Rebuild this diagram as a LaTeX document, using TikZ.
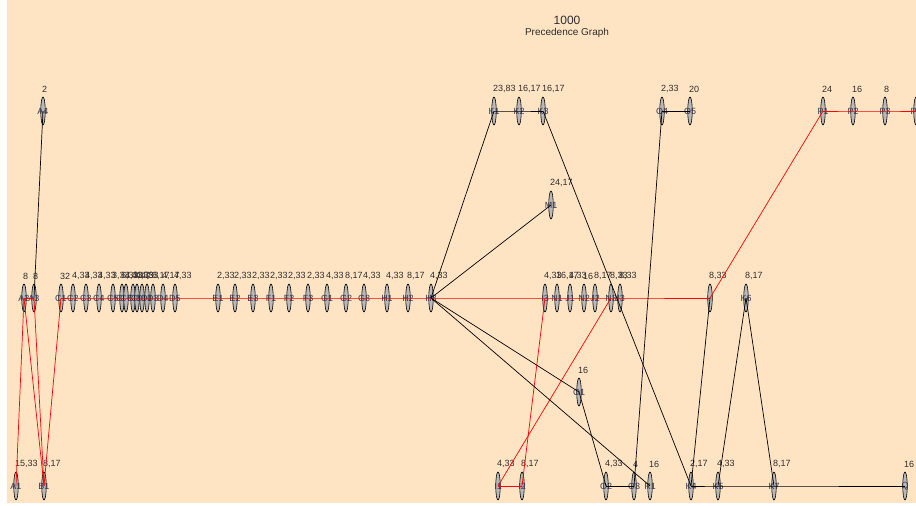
\documentclass[tikz,border=0pt]{standalone}
\usepackage{fontspec}
\setmainfont{Liberation Sans}
\usetikzlibrary{shapes.geometric}
\definecolor{bg}{RGB}{255,228,196}
\definecolor{lblc}{RGB}{55,60,90}
\definecolor{numc}{RGB}{45,45,45}
\tikzset{
 vtx/.style={ellipse,draw=black,fill=gray!55,minimum width=4.5pt,minimum height=28pt,inner sep=0pt,line width=0.6pt},
 vlbl/.style={font=\fontsize{9}{9}\selectfont,text=lblc,inner sep=0pt},
 vnum/.style={font=\fontsize{9}{9}\selectfont,text=numc,inner sep=0pt,anchor=west},
 redge/.style={draw=red,line width=0.7pt},
 bedge/.style={draw=black,line width=0.7pt},
}
\newcommand{\gnode}[5]{%
 \node[vtx] (#1) at (#2,#3) {};
 \node[vlbl] (#1-l) at (#2,#3) {#4};
 \node[vnum] (#1-n) at (#2-1,#3-22) {#5};
}
\begin{document}
\begin{tikzpicture}[x=1pt,y=-1pt]
\useasboundingbox (0,0) rectangle (916,506);
\fill[white] (0,0) rectangle (916,506);
\fill[bg] (7,0) rectangle (916,503);
\node[font=\fontsize{12}{12}\selectfont,text=numc] (title1) at (567,20) {1000};
\node[font=\fontsize{10}{10}\selectfont,text=numc] (title2) at (567,33) {Precedence Graph};
% bottom row
\gnode{A1}{16}{486}{A1}{15,33}
\gnode{B1}{44}{486}{B1}{8,17}
\gnode{I1}{498}{486}{I1}{4,33}
\gnode{I2}{522}{486}{I2}{8,17}
\gnode{O2}{606}{486}{O2}{4,33}
\gnode{O3}{634}{486}{O3}{4}
\gnode{R1}{650}{486}{R1}{16}
\gnode{K4}{691}{486}{K4}{2,17}
\gnode{K5}{718}{486}{K5}{4,33}
\gnode{K7}{774}{486}{K7}{8,17}
\gnode{Q}{905}{486}{Q}{16}
% main row
\gnode{A2}{24}{298}{A2}{8}
\gnode{A3}{34}{298}{A3}{8}
\gnode{C1}{61}{298}{C1}{32}
\gnode{C2}{73}{298}{C2}{4,33}
\gnode{C3}{86}{298}{C3}{4,33}
\gnode{C4}{99}{298}{C4}{4,33}
\gnode{C5}{113}{298}{C5}{3,33}
\gnode{C6}{122}{298}{C6}{6,33}
\gnode{C7}{126}{298}{C7}{4,33}
\gnode{C8}{133}{298}{C8}{4,17}
\gnode{C9}{137}{298}{C9}{4,33}
\gnode{D1}{142}{298}{D1}{4,33}
\gnode{D2}{147}{298}{D2}{7}
\gnode{D3}{153}{298}{D3}{8,17}
\gnode{D4}{163}{298}{D4}{4,17}
\gnode{D5}{175}{298}{D5}{4,33}
\gnode{E1}{218}{298}{E1}{2,33}
\gnode{E2}{235}{298}{E2}{2,33}
\gnode{E3}{253}{298}{E3}{2,33}
\gnode{F1}{271}{298}{F1}{2,33}
\gnode{F2}{289}{298}{F2}{2,33}
\gnode{F3}{308}{298}{F3}{2,33}
\gnode{G1}{327}{298}{G1}{4,33}
\gnode{G2}{346}{298}{G2}{8,17}
\gnode{G3}{364}{298}{G3}{4,33}
\gnode{H1}{387}{298}{H1}{4,33}
\gnode{H2}{408}{298}{H2}{8,17}
\gnode{H3}{431}{298}{H3}{4,33}
\gnode{I3}{545}{298}{I3}{4,33}
\gnode{N1}{557}{298}{N1}{16,17}
\gnode{J1}{570}{298}{J1}{4,33}
\gnode{N2}{584}{298}{N2}{16}
\gnode{J2}{595}{298}{J2}{8,17}
\gnode{N3}{611}{298}{N3}{8,33}
\gnode{J3}{620}{298}{J3}{8,33}
\gnode{L1}{710}{298}{}{8,33}
\gnode{K6}{746}{298}{K6}{8,17}
% middle
\gnode{M1}{551}{205}{M1}{24,17}
\gnode{O1}{579}{392}{O1}{16}
% top row
\gnode{A4}{43}{111}{A4}{2}
\gnode{K1}{494}{111}{K1}{23,83}
\gnode{K2}{519}{111}{K2}{16,17}
\gnode{K3}{543}{111}{K3}{16,17}
\gnode{O4}{662}{111}{O4}{2,33}
\gnode{O5}{690}{111}{O5}{20}
\gnode{P1}{823}{111}{P1}{24}
\gnode{P2}{853}{111}{P2}{16}
\gnode{P3}{885}{111}{P3}{8}
\gnode{P4}{916}{111}{P4}{}
% red edges
\draw[redge] (A1.center) -- (A2.center);
\draw[redge] (A2.center) -- (A3.center);
\draw[redge] (A2.center) -- (B1.center);
\draw[redge] (A3.center) -- (B1.center);
\draw[redge] (B1.center) -- (C1.center);
\draw[redge] (C1.center) -- (C2.center) -- (C3.center) -- (C4.center) -- (C5.center) -- (C6.center) -- (C7.center) -- (C8.center) -- (C9.center) -- (D1.center) -- (D2.center) -- (D3.center) -- (D4.center) -- (D5.center) -- (E1.center) -- (E2.center) -- (E3.center) -- (F1.center) -- (F2.center) -- (F3.center) -- (G1.center) -- (G2.center) -- (G3.center) -- (H1.center) -- (H2.center) -- (H3.center) -- (I3.center) -- (N1.center) -- (J1.center) -- (N2.center) -- (J2.center) -- (N3.center) -- (J3.center) -- (L1.center);
\draw[redge] (L1.center) -- (P1.center);
\draw[redge] (P1.center) -- (P2.center) -- (P3.center) -- (P4.center);
\draw[redge] (I1.center) -- (I2.center);
\draw[redge] (I1.center) -- (N3.center);
\draw[redge] (I2.center) -- (I3.center);
% black edges
\draw[bedge] (A3.center) -- (A4.center);
\draw[bedge] (H3.center) -- (K1.center);
\draw[bedge] (K1.center) -- (K2.center) -- (K3.center);
\draw[bedge] (H3.center) -- (M1.center);
\draw[bedge] (H3.center) -- (O1.center);
\draw[bedge] (H3.center) -- (R1.center);
\draw[bedge] (O1.center) -- (O2.center);
\draw[bedge] (O2.center) -- (O3.center);
\draw[bedge] (O4.center) -- (O3.center);
\draw[bedge] (O4.center) -- (O5.center);
\draw[bedge] (K3.center) -- (K4.center);
\draw[bedge] (L1.center) -- (K4.center);
\draw[bedge] (K4.center) -- (K5.center) -- (K7.center) -- (Q.center);
\draw[bedge] (K6.center) -- (K5.center);
\draw[bedge] (K6.center) -- (K7.center);
\end{tikzpicture}
\end{document}
